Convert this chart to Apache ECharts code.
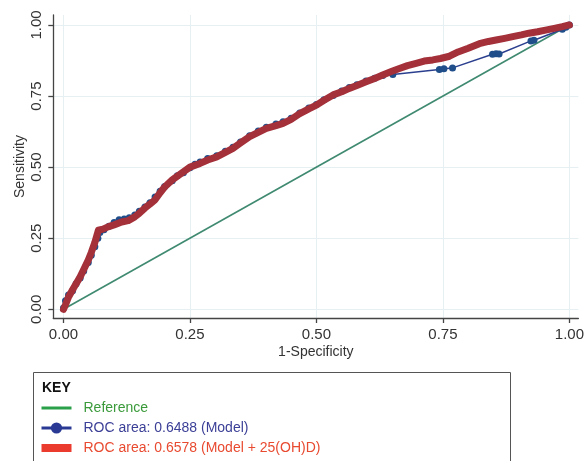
<!DOCTYPE html>
<html>
<head>
<meta charset="utf-8">
<script src="https://cdn.jsdelivr.net/npm/echarts@6/dist/echarts.min.js"></script>
<style>
html,body{margin:0;padding:0;background:#fff;}
#c{width:587px;height:461px;}
</style>
</head>
<body>
<div id="c"></div>
<script>
// ---- data ----
var tickValues = [0, 0.25, 0.5, 0.75, 1];
var refX = [0, 1];
var refY = [0, 1];

var modelX = [0,0.004,0.01,0.018,0.025,0.033,0.04,0.049,0.055,0.062,0.068,0.072,0.08,0.09,0.1,0.11,0.12,0.13,0.141,0.15,0.161,0.171,0.181,0.191,0.2,0.215,0.225,0.237,0.25,0.26,0.27,0.285,0.303,0.32,0.335,0.35,0.368,0.385,0.401,0.42,0.434,0.45,0.467,0.485,0.5,0.515,0.533,0.55,0.565,0.58,0.598,0.615,0.631,0.651,0.743,0.752,0.769,0.848,0.855,0.861,0.924,0.93,0.986,0.993,1];
var modelY = [0.005,0.03,0.05,0.065,0.09,0.11,0.135,0.165,0.19,0.22,0.25,0.27,0.28,0.292,0.305,0.315,0.318,0.322,0.332,0.345,0.36,0.375,0.395,0.415,0.432,0.452,0.47,0.48,0.498,0.51,0.518,0.53,0.54,0.556,0.57,0.588,0.61,0.627,0.64,0.652,0.66,0.672,0.69,0.708,0.72,0.737,0.752,0.768,0.78,0.79,0.803,0.813,0.822,0.826,0.843,0.846,0.849,0.897,0.899,0.898,0.944,0.946,0.985,0.992,1];

var vitX = [0,0.005,0.01,0.02,0.033,0.04,0.049,0.055,0.062,0.069,0.078,0.088,0.1,0.115,0.128,0.141,0.15,0.161,0.171,0.181,0.191,0.2,0.215,0.237,0.25,0.27,0.285,0.303,0.32,0.335,0.35,0.368,0.385,0.401,0.42,0.434,0.45,0.467,0.485,0.5,0.515,0.533,0.55,0.565,0.58,0.598,0.615,0.631,0.648,0.664,0.68,0.697,0.713,0.73,0.745,0.763,0.78,0.8,0.822,0.84,0.855,0.872,0.888,0.905,0.92,0.937,0.953,0.97,0.986,1];
var vitY = [0,0.02,0.043,0.075,0.114,0.14,0.173,0.2,0.235,0.278,0.282,0.29,0.297,0.307,0.312,0.325,0.338,0.356,0.37,0.385,0.41,0.43,0.455,0.483,0.5,0.513,0.525,0.536,0.552,0.566,0.585,0.607,0.622,0.636,0.646,0.654,0.668,0.688,0.705,0.718,0.735,0.754,0.765,0.777,0.787,0.8,0.812,0.824,0.836,0.847,0.857,0.865,0.873,0.877,0.882,0.89,0.905,0.918,0.934,0.942,0.947,0.953,0.959,0.965,0.971,0.976,0.982,0.988,0.994,1];

var seriesNames = ['Reference', 'ROC area: 0.6488 (Model)', 'ROC area: 0.6578 (Model + 25(OH)D)'];

function pairs(xs, ys){ return xs.map(function(x,i){ return [x, ys[i]]; }); }

var chart = echarts.init(document.getElementById('c'), null, {renderer:'canvas'});
var font = '"Liberation Sans", Arial, sans-serif';
var axisCommon = {
  type: 'value',
  nameLocation: 'middle',
  nameMoveOverlap: false,
  nameTextStyle: {fontFamily: font, fontSize: 14, color: '#333'},
  axisLine: {show: true, onZero: false, lineStyle: {color: '#444', width: 1.3}},
  axisTick: {show: true, length: 5, customValues: tickValues, lineStyle: {color: '#444', width: 1.3}},
  axisLabel: {customValues: tickValues, fontFamily: font, fontSize: 15, color: '#333',
              formatter: function(v){ return v.toFixed(2); }},
  splitLine: {show: true, lineStyle: {color: '#e6eff2', width: 1}}
};
var option = {
  backgroundColor: '#fff',
  animation: false,
  grid: {left: 53.3, right: 7, top: 15, bottom: 143, containLabel: false},
  xAxis: Object.assign({}, axisCommon, {
    name: '1-Specificity', nameGap: 27, min: -0.0201, max: 1.0177,
    axisLabel: Object.assign({}, axisCommon.axisLabel, {margin: 9})
  }),
  yAxis: Object.assign({}, axisCommon, {
    name: 'Sensitivity', nameGap: 26, min: -0.0306, max: 1.035,
    axisLabel: Object.assign({}, axisCommon.axisLabel, {margin: 9, rotate: 90})
  }),
  legend: {
    orient: 'vertical', left: 40, top: 401, height: 60, padding: 0, itemWidth: 30, itemHeight: 14, itemGap: 6,
    selectedMode: false,
    textStyle: {fontFamily: font, fontSize: 14, padding: [0,0,0,7]},
    data: [
      {name: seriesNames[0], icon: 'path://M0,6H30V9H0Z', itemStyle: {color: '#2aa04a'}, textStyle: {color: '#3a9a3a'}},
      {name: seriesNames[1], itemStyle: {color: '#2a3a94'}, lineStyle: {color: '#2a3a94', width: 3}, textStyle: {color: '#3b3f96'}},
      {name: seriesNames[2], icon: 'path://M0,3H30V11H0Z', itemStyle: {color: '#ea3b2e'}, textStyle: {color: '#e84a30'}}
    ]
  },
  graphic: [
    {type: 'rect', shape: {x: 33.5, y: 372.5, width: 477, height: 100}, style: {fill: 'none', stroke: '#555', lineWidth: 1}, z: 0},
    {type: 'text', left: 42, top: 381, style: {text: 'KEY', fontFamily: font, fontSize: 14, fontWeight: 'bold', fill: '#111'}}
  ],
  series: [
    {name: seriesNames[0], type: 'line', data: pairs(refX, refY), symbol: 'none',
     lineStyle: {color: '#3f8a70', width: 1.6}, itemStyle: {color: '#3f8a70'}, z: 1},
    {name: seriesNames[1], type: 'line', data: pairs(modelX, modelY), symbol: 'circle', symbolSize: 7, showAllSymbol: true,
     lineStyle: {color: '#2b3f8f', width: 1.5}, itemStyle: {color: '#1f4e8a'}, z: 2},
    {name: seriesNames[2], type: 'line', data: pairs(vitX, vitY), symbol: 'none',
     lineStyle: {color: '#a4303a', width: 7, join: 'round', cap: 'round'}, itemStyle: {color: '#a4303a'}, z: 3}
  ]
};
chart.setOption(option);
</script>
</body>
</html>
